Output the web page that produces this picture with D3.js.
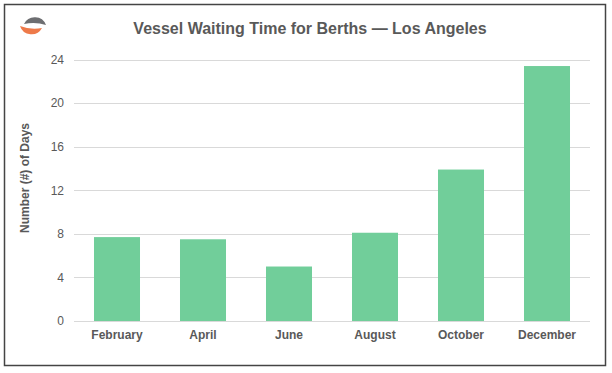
<!DOCTYPE html>
<html><head><meta charset="utf-8">
<script src="https://cdn.jsdelivr.net/npm/d3@7"></script>
<style>body{margin:0;background:#fff}svg{display:block;font-family:"Liberation Sans",Arial,sans-serif}</style>
</head><body>
<script>
const categories = ["February","April","June","August","October","December"];
const values = [7.7, 7.5, 5.0, 8.1, 13.9, 23.4];
const yTicks = [0,4,8,12,16,20,24];
const title = "Vessel Waiting Time for Berths — Los Angeles";
const yTitle = "Number (#) of Days";

const W = 612, H = 373;
const svg = d3.select("body").append("svg").attr("width", W).attr("height", H);
svg.append("rect").attr("x",4.5).attr("y",4.5).attr("width",601).attr("height",361)
  .attr("fill","#fff").attr("stroke","#444").attr("stroke-width",1.5);

// logo
const lg = svg.append("g");
lg.append("path").attr("d","M24,24 A12,12 0 0 1 46,25 A40,40 0 0 0 24,24 Z").attr("fill","#6d6e71");
lg.append("path").attr("d","M20,26 A12,12 0 0 0 42,28 A40,40 0 0 1 20,26 Z").attr("fill","#ee7a4a");

const x = d3.scaleBand().domain(categories).range([74,590]).paddingInner(0.465).paddingOuter(0.2325);
const y = d3.scaleLinear().domain([0,24]).range([321,59.5]);

svg.append("g").selectAll("line").data(yTicks).join("line")
  .attr("x1",74).attr("x2",590).attr("y1",d=>Math.round(y(d))+0.5).attr("y2",d=>Math.round(y(d))+0.5)
  .attr("stroke","#d9d9d9").attr("stroke-width",1);

svg.append("g").selectAll("rect").data(values).join("rect")
  .attr("x",(d,i)=>x(categories[i])).attr("width",x.bandwidth())
  .attr("y",d=>y(d)).attr("height",d=>y(0)-y(d)).attr("fill","#71ce9a");

const yAxis = svg.append("g").attr("transform","translate(64,0)")
  .call(d3.axisLeft(y).tickValues(yTicks).tickSize(0).tickPadding(0));
yAxis.select(".domain").remove();
yAxis.selectAll("text").attr("font-size",12).attr("fill","#595959").attr("font-family","Liberation Sans, Arial, sans-serif");

const xAxis = svg.append("g").attr("transform","translate(0,321)")
  .call(d3.axisBottom(x).tickSize(0).tickPadding(9));
xAxis.select(".domain").remove();
xAxis.selectAll("text").attr("font-size",12).attr("font-weight","bold").attr("fill","#595959").attr("font-family","Liberation Sans, Arial, sans-serif");

svg.append("text").attr("x",310).attr("y",34).attr("text-anchor","middle")
  .attr("font-size",16).attr("font-weight","bold").attr("fill","#595959").text(title);

svg.append("text").attr("transform","translate(29,178) rotate(-90)").attr("text-anchor","middle")
  .attr("font-size",12).attr("font-weight","bold").attr("fill","#595959").text(yTitle);
</script>
</body></html>
